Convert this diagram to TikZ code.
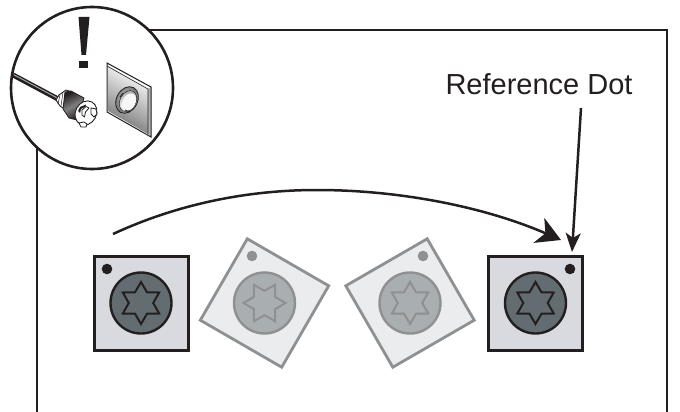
\documentclass[tikz,border=0pt]{standalone}
\usepackage{fontspec}
\setmainfont{Liberation Sans}
\usetikzlibrary{arrows.meta,calc}
\definecolor{ink}{HTML}{231F20}
\definecolor{plate}{HTML}{D8DAE0}
\definecolor{disc}{HTML}{636D71}
\definecolor{fadeink}{HTML}{8E9091}
\definecolor{fadeplate}{HTML}{EBECEE}
\definecolor{fadedisc}{HTML}{A9AEB0}
\tikzset{
  solidknob/.style={draw=ink,fill=plate,line width=3pt,line join=miter},
  solidface/.style={draw=ink,fill=disc,line width=2.4pt},
  soliddot/.style={fill=ink},
  fadeknob/.style={draw=fadeink,fill=fadeplate,line width=2.8pt,line join=miter},
  fadeface/.style={draw=fadeink,fill=fadedisc,line width=2.4pt},
  fadedot/.style={fill=fadeink},
  leader/.style={draw=ink,line width=2.5pt},
  frameline/.style={draw=ink,line width=2.6pt},
}
% #1 centre, #2 square rotation, #3 star rotation, #4 dot position, #5 box style, #6 face style, #7 dot style
\newcommand{\knobpic}[7]{%
  \path[#5,rotate around={#2:(#1)}] ($(#1)+(-47,-47)$) rectangle ($(#1)+(47,47)$);
  \path[#7] (#4) circle (5.3);
  \path[#6] (#1) circle (30.5);
  \path[#6,line width=2pt,miter limit=10] ($(#1)+(#3+90:21)$)
    \foreach \k in {0,...,5}{
      -- ($(#1)+(#3+120+\k*60:12.2)$) -- ($(#1)+(#3+150+\k*60:21)$)
    } -- cycle;
}
\begin{document}
\begin{tikzpicture}[x=1pt,y=-1pt]
\useasboundingbox (0,0) rectangle (680,412);
% frame
\draw[frameline] (37,412) -- (37,30) -- (667,30) -- (667,412);
% inset
\draw[draw=ink,fill=white,line width=2.6pt] (92,88) circle (81);
% exclamation mark
\fill[ink] (78.5,17) -- (89.5,17) -- (86,55) -- (81.5,55) -- cycle;
\fill[ink] (79,61) rectangle (88,68);
% wall socket
\shade[top color=white,bottom color=white!45!black,shading angle=-30] (108,66) -- (148,89) -- (148,134) -- (108,111) -- cycle;
\fill[white!70!black] (148,89) -- (151,87) -- (151,137) -- (148,134) -- cycle;
\draw[ink,line width=1pt,line join=miter] (107,63) -- (151,87) -- (151,137) -- (107,112) -- cycle;
\draw[ink,line width=.6pt] (107,66) -- (148,89) -- (148,134);
\shade[inner color=white!85!black,outer color=white!45!black,draw=ink,line width=.8pt,rotate around={-28:(127,100)}] (127,100) ellipse [x radius=10.5,y radius=14];
\shade[top color=white!65!black,bottom color=white,draw=ink,line width=.5pt,rotate around={-28:(128,101)}] (128,101) ellipse [x radius=8,y radius=11];
\fill[white!97!black,rotate around={-28:(129,102)}] (129,102) ellipse [x radius=6.5,y radius=9];
\draw[ink,line width=.8pt] (120,97) -- (123,93);
\draw[ink,line width=.8pt] (125,110) -- (130,112);
% cord
\draw[ink,line width=5pt] (13,75) -- (58,99);
\draw[white!65!black,line width=1pt] (14,74.8) -- (58,98.4);
% plug collar
\draw[ink,fill=white,line width=.9pt,line join=round] (56,100) -- (59,95) -- (66,90) -- (72,92) -- (66,110) -- (60,106) -- cycle;
\draw[ink,line width=.5pt] (60,95) -- (58,104) (63,92.5) -- (61,106);
% plug body
\shade[left color=ink,right color=ink,middle color=white!50!black,shading angle=28,draw=ink,line width=.8pt,line join=round] (65,92) -- (71,91) -- (84,98) -- (77,120) -- (69,118) -- (63,109) -- cycle;
% plug face
\draw[ink,fill=white,line width=.9pt,rotate around={-28:(86,113)}] (86,113) ellipse [x radius=10.5,y radius=12.5];
\fill[ink] (78,111) -- (80,107) -- (86,104.5) -- (85.5,106.5) -- (81,109) -- (80,113) -- cycle;
\draw[ink,fill=white,line width=.8pt,line join=round] (82,110) -- (86,106.5) -- (89,108) -- (85.5,112) -- (84.5,117) -- (82,115) -- cycle;
\draw[ink,fill=white,line width=.8pt,line join=round] (91,108) -- (96,109) -- (97,114) -- (94,117) -- (91,114) -- cycle;
\draw[ink,fill=white,line width=.8pt,line join=round] (79,123) -- (84,122) -- (87,124) -- (86,127) -- (81,127) -- cycle;
% knobs
\knobpic{141,303}{0}{0}{107,269}{solidknob}{solidface}{soliddot}
\knobpic{264.5,303}{-30}{30}{252,256}{fadeknob}{fadeface}{fadedot}
\knobpic{410,303}{30}{0}{423,256}{fadeknob}{fadeface}{fadedot}
\knobpic{535.5,303}{0}{0}{570,269}{solidknob}{solidface}{soliddot}
% label and arrows
\node[inner sep=0pt,anchor=base,font=\fontsize{29}{32}\selectfont,text=ink] (reflabel) at (539,94) {Reference Dot};
\coordinate (swingstart) at (113,234);
\coordinate (swingtop) at (317,190);
\coordinate (swingend) at (561,240);
\coordinate (dotarrowstart) at (581,108);
\coordinate (dotarrowend) at (572,252);
\draw[leader] (swingstart) .. controls (180,203) and (250,190) .. (swingtop);
\draw[leader,-{Stealth[length=24pt,width=27pt,inset=7pt]}] (swingtop) .. controls (400,190) and (485,207) .. (swingend);
\draw[leader,-{Stealth[length=19pt,width=15pt,inset=5pt]}] (dotarrowstart) -- (dotarrowend);
\end{tikzpicture}
\end{document}
